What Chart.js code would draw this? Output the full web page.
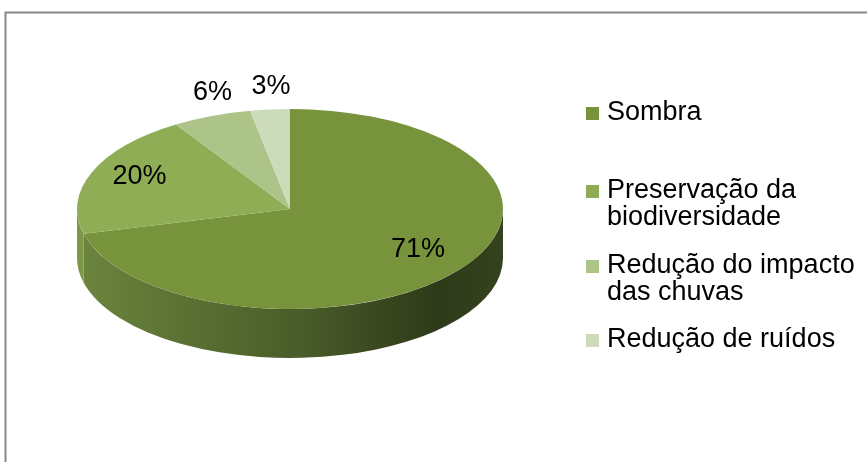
<!DOCTYPE html>
<html><head><meta charset="utf-8">
<script src="https://cdn.jsdelivr.net/npm/chart.js@4/dist/chart.umd.min.js"></script>
<style>html,body{margin:0;padding:0;background:#fff;overflow:hidden}canvas{display:block}</style>
</head><body>
<canvas id="c" width="867" height="462"></canvas>
<script>
// ---- data ----
const categories = ["Sombra", "Preservação da biodiversidade", "Redução do impacto das chuvas", "Redução de ruídos"];
const values = [71, 20, 6, 3];
const valueLabels = ["71%", "20%", "6%", "3%"];
const colors = ["#77933C", "#8FAD55", "#ACC488", "#CCDBB9"];

// ---- styling / layout ----
const FONT = '27px "Liberation Sans", Arial, sans-serif';
const CY = 209, RY = 100, DEPTH = 49;
const sideStops = [
  [[0, "#6B853D"], [0.5, "#4B5E2A"], [0.85, "#2E3A19"], [1, "#34421D"]],
  [[0, "#7C9746"], [1, "#5E7534"]],
  [[0, "#98B074"], [1, "#7A9158"]],
  [[0, "#B5C4A1"], [1, "#96A583"]]
];
const legendY = [112, 190, 265, 339];

const pie3d = {
  id: 'pie3d',
  beforeDraw(chart) {
    const ctx = chart.ctx;
    ctx.save();
    ctx.fillStyle = '#fff';
    ctx.fillRect(0, 0, chart.width, chart.height);
    ctx.strokeStyle = '#878787';
    ctx.lineWidth = 2;
    ctx.beginPath();
    ctx.moveTo(5.5, chart.height + 5);
    ctx.lineTo(5.5, 12.5);
    ctx.lineTo(chart.width + 5, 12.5);
    ctx.stroke();
    ctx.restore();
  },
  beforeDatasetsDraw(chart) {
    const ctx = chart.ctx;
    const arcs = chart.getDatasetMeta(0).data;
    const a0 = arcs[0];
    const cx = a0.x, cyA = a0.y, rx = a0.outerRadius, k = RY / rx;
    // side walls
    arcs.forEach((arc, i) => {
      const ranges = [[0, Math.PI], [2 * Math.PI, 3 * Math.PI]];
      ranges.forEach(([lo, hi]) => {
        const t0 = Math.max(arc.startAngle, lo), t1 = Math.min(arc.endAngle, hi);
        if (t1 <= t0) return;
        const g = ctx.createLinearGradient(cx - rx, 0, cx + rx, 0);
        sideStops[i].forEach(([p, c]) => g.addColorStop(p, c));
        ctx.save();
        ctx.beginPath();
        ctx.ellipse(cx, CY, rx, RY, 0, t0, t1, false);
        ctx.ellipse(cx, CY + DEPTH, rx, RY, 0, t1, t0, true);
        ctx.closePath();
        ctx.fillStyle = g;
        ctx.fill();
        ctx.restore();
      });
    });
    ctx.save();
    ctx.translate(cx, CY);
    ctx.scale(1, k);
    ctx.translate(-cx, -cyA);
  },
  afterDatasetsDraw(chart) {
    const ctx = chart.ctx;
    ctx.restore();
    const arcs = chart.getDatasetMeta(0).data;
    const cx = arcs[0].x, rx = arcs[0].outerRadius;
    ctx.save();
    ctx.font = FONT;
    ctx.fillStyle = '#000';
    ctx.textAlign = 'center';
    ctx.textBaseline = 'middle';
    arcs.forEach((arc, i) => {
      const mid = (arc.startAngle + arc.endAngle) / 2;
      let x, y;
      if (values[i] >= 10) {
        x = cx + rx * 0.76 * Math.cos(mid);
        y = CY + RY * 0.75 * Math.sin(mid) - 5;
      } else {
        x = cx + rx * Math.cos(mid) + 1;
        y = CY + RY * Math.sin(mid) - 23;
      }
      ctx.fillText(valueLabels[i], x, y);
    });
    // legend
    ctx.textAlign = 'left';
    const maxW = 262;
    categories.forEach((cat, i) => {
      const words = cat.split(' ');
      const lines = [];
      let cur = '';
      words.forEach(w => {
        const t = cur ? cur + ' ' + w : w;
        if (ctx.measureText(t).width > maxW && cur) { lines.push(cur); cur = w; }
        else cur = t;
      });
      if (cur) lines.push(cur);
      const y0 = legendY[i];
      ctx.fillStyle = colors[i];
      ctx.fillRect(586, y0 - 5, 13, 13);
      ctx.fillStyle = '#000';
      lines.forEach((ln, j) => ctx.fillText(ln, 607, y0 + 1 + j * 27));
    });
    ctx.restore();
  }
};

new Chart(document.getElementById('c'), {
  type: 'pie',
  data: {
    labels: categories,
    datasets: [{
      data: values,
      backgroundColor: colors,
      borderWidth: 0,
      clip: false,
      hoverOffset: 0
    }]
  },
  options: {
    responsive: false,
    animation: false,
    events: [],
    layout: { padding: { left: 77, right: 364, top: 18, bottom: 18 } },
    plugins: { legend: { display: false }, tooltip: { enabled: false } }
  },
  plugins: [pie3d]
});
</script>
</body></html>
